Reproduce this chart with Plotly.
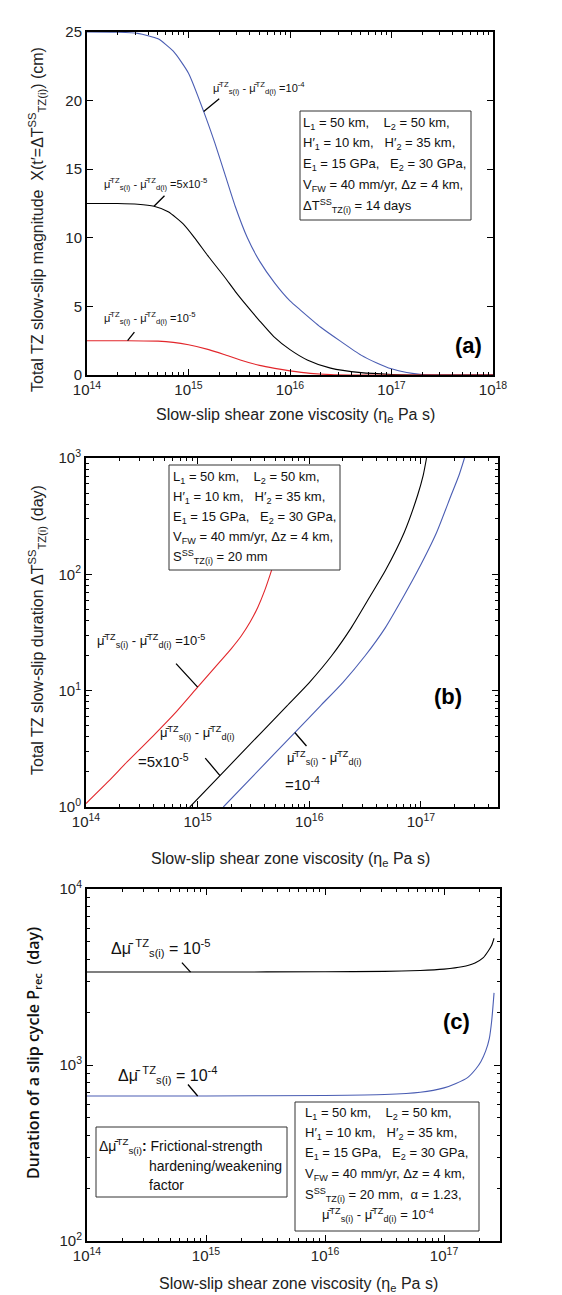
import plotly.graph_objects as go

W, H = 562, 1295

# ---------------- data (log10 viscosity) ----------------
# Panel (a): total TZ slow-slip magnitude (cm)
a_lx_blue = [14.0, 14.3, 14.5, 14.7, 14.85, 15.0, 15.15, 15.26, 15.36, 15.46, 15.58, 15.7,
             15.85, 16.0, 16.1, 16.3, 16.5, 16.7, 16.85, 17.0, 17.15, 17.3, 17.5, 18.0]
a_X_blue = [25.0, 24.98, 24.9, 24.5, 23.6, 22.0, 19.2, 16.9, 14.6, 12.3, 10.0, 8.3,
            6.7, 5.4, 4.75, 3.5, 2.45, 1.45, 0.9, 0.45, 0.18, 0.04, 0.0, 0.0]
a_lx_black = [14.0, 14.3, 14.5, 14.66, 14.8, 14.95, 15.06, 15.2, 15.35, 15.46, 15.58, 15.7,
              15.84, 16.0, 16.17, 16.4, 16.7, 17.0, 17.2, 18.0]
a_X_black = [12.5, 12.5, 12.45, 12.3, 11.9, 11.0, 10.0, 8.6, 7.2, 6.1, 5.0, 3.95,
             2.8, 1.85, 1.1, 0.5, 0.17, 0.04, 0.0, 0.0]
a_lx_red = [14.0, 14.4, 14.7, 14.85, 15.0, 15.2, 15.35, 15.51, 15.7, 15.85, 16.0, 16.2, 16.4, 16.6, 18.0]
a_X_red = [2.5, 2.5, 2.47, 2.38, 2.2, 1.85, 1.5, 1.1, 0.7, 0.48, 0.3, 0.12, 0.03, 0.0, 0.0]

# Panel (b): total TZ slow-slip duration (log10 day)
b_lx_red = [14.0, 14.2, 14.37, 14.6, 14.81, 15.0, 15.2, 15.3, 15.39, 15.47, 15.54, 15.6,
            15.65, 15.7, 15.78, 15.84, 15.88]
b_lT_red = [0.03, 0.22, 0.39, 0.61, 0.82, 1.03, 1.25, 1.36, 1.47, 1.59, 1.72, 1.86,
            2.0, 2.15, 2.45, 2.7, 2.88]
b_lx_black = [14.93, 15.2, 15.57, 15.8, 16.0, 16.2, 16.375, 16.55, 16.68, 16.85, 16.97, 17.02, 17.05]
b_lT_black = [0.0, 0.27, 0.64, 0.87, 1.07, 1.3, 1.54, 1.82, 2.03, 2.36, 2.68, 2.85, 3.0]
b_lx_blue = [15.23, 15.5, 15.87, 16.1, 16.3, 16.5, 16.68, 16.85, 16.97, 17.14, 17.27, 17.34, 17.39]
b_lT_blue = [0.0, 0.27, 0.64, 0.87, 1.07, 1.3, 1.54, 1.82, 2.03, 2.36, 2.68, 2.85, 3.0]

# Panel (c): duration of a slip cycle (log10 day)
c_lx_black = [14.0, 14.87, 15.0, 16.0, 16.5, 16.8, 17.0, 17.15, 17.26, 17.33, 17.37, 17.4, 17.42]
c_lP_black = [3.528, 3.528, 3.528, 3.53, 3.532, 3.537, 3.545, 3.558, 3.58, 3.61, 3.646, 3.68, 3.72]
c_lx_blue = [14.0, 14.93, 15.0, 16.0, 16.5, 16.8, 17.0, 17.1, 17.2, 17.27, 17.31, 17.35, 17.38, 17.4, 17.42]
c_lP_blue = [2.824, 2.824, 2.824, 2.827, 2.832, 2.845, 2.87, 2.895, 2.93, 2.98, 3.02, 3.08, 3.15, 3.25, 3.41]

# tick labels
x_tickexp = [14, 15, 16, 17, 18]
b_y_tickexp = [0, 1, 2, 3]
c_y_tickexp = [2, 3, 4]
a_y_ticks = [0, 5, 10, 15, 20, 25]

BLUE = "#4a5db3"
RED = "#e2262b"
BLACK = "#000000"


def pw(v):
    return [10 ** t for t in v]


def sline(color):
    return dict(color=color, width=1.1, shape="spline", smoothing=0.6)


fig = go.Figure()
fig.add_trace(go.Scatter(x=pw(a_lx_blue), y=a_X_blue, mode="lines", line=sline(BLUE), xaxis="x", yaxis="y"))
fig.add_trace(go.Scatter(x=pw(a_lx_black), y=a_X_black, mode="lines", line=sline(BLACK), xaxis="x", yaxis="y"))
fig.add_trace(go.Scatter(x=pw(a_lx_red), y=a_X_red, mode="lines", line=sline(RED), xaxis="x", yaxis="y"))

fig.add_trace(go.Scatter(x=pw(b_lx_red), y=pw(b_lT_red), mode="lines", line=sline(RED), xaxis="x2", yaxis="y2"))
fig.add_trace(go.Scatter(x=pw(b_lx_black), y=pw(b_lT_black), mode="lines", line=sline(BLACK), xaxis="x2", yaxis="y2"))
fig.add_trace(go.Scatter(x=pw(b_lx_blue), y=pw(b_lT_blue), mode="lines", line=sline(BLUE), xaxis="x2", yaxis="y2"))

fig.add_trace(go.Scatter(x=pw(c_lx_black), y=pw(c_lP_black), mode="lines", line=sline(BLACK), xaxis="x3", yaxis="y3"))
fig.add_trace(go.Scatter(x=pw(c_lx_blue), y=pw(c_lP_blue), mode="lines", line=sline(BLUE), xaxis="x3", yaxis="y3"))


def px(x):
    return x / W


def py(y):
    return 1 - y / H


TICKFONT = dict(family="Liberation Sans, Arial, sans-serif", size=15, color="#222")
TITLEFONT = dict(family="Liberation Sans, Arial, sans-serif", size=16, color="#222")


def powlabels(exps):
    return [10 ** e for e in exps], ["10<sup>%d</sup>" % e for e in exps]


def minorvals(exps):
    return [k * 10 ** e for e in exps for k in range(2, 10)]


def common():
    return dict(showline=True, linewidth=2, linecolor="black", mirror="ticks",
                ticks="inside", ticklen=6, tickwidth=1, tickcolor="black",
                showgrid=False, zeroline=False, tickfont=TICKFONT, automargin=False)


def logax(domain, rng, anchor, exps):
    tv, tt = powlabels(exps)
    d = common()
    d.update(type="log", range=rng, domain=domain, anchor=anchor,
             tickmode="array", tickvals=tv, ticktext=tt,
             minor=dict(tickmode="array", tickvals=minorvals(exps), ticks="inside",
                        ticklen=3, tickwidth=1, tickcolor="black", showgrid=False))
    return d


ya = common()
ya.update(range=[0, 25], tickmode="array", tickvals=a_y_ticks, domain=[py(367), py(24)], anchor="x")

layout = dict(
    width=W, height=H, margin=dict(l=0, r=0, t=0, b=0, autoexpand=False),
    paper_bgcolor="white", plot_bgcolor="white", showlegend=False,
    xaxis=logax([px(79), px(485)], [14, 18], "y", x_tickexp),
    xaxis2=logax([px(78), px(490)], [14, 17.69], "y2", x_tickexp[:4]),
    xaxis3=logax([px(79), px(492)], [14, 17.47], "y3", x_tickexp[:4]),
    yaxis=ya,
    yaxis2=logax([py(799), py(450)], [0, 3], "x2", b_y_tickexp),
    yaxis3=logax([py(1233), py(881)], [2, 4], "x3", c_y_tickexp),
)

shapes = []
ann = []
BOXFONT = dict(family="Liberation Sans, Arial, sans-serif", size=13, color="#111")
LABFONT = dict(family="Liberation Sans, Arial, sans-serif", size=11, color="#111")


def box(x0, y0, x1, y1):
    shapes.append(dict(type="rect", xref="paper", yref="paper", x0=px(x0), x1=px(x1),
                       y0=py(y1), y1=py(y0), line=dict(color="#333", width=1),
                       fillcolor="white", layer="above"))


def text(x, y, t, font=BOXFONT, xanchor="left", angle=0):
    ann.append(dict(xref="paper", yref="paper", x=px(x), y=py(y), text=t, showarrow=False,
                    xanchor=xanchor, yanchor="middle", font=font, textangle=angle))


def pointer(xref, yref, x, y, ax, ay):
    ann.append(dict(xref=xref, yref=yref, x=x, y=y, text="", showarrow=True, arrowhead=0,
                    arrowwidth=1.3, arrowcolor="black", ax=ax, ay=ay))


# axis titles
XTITLE = "Slow-slip shear zone viscosity (η<sub>e</sub> Pa s)"
text(287, 407, XTITLE, TITLEFONT, "center")
text(282, 851, XTITLE, TITLEFONT, "center")
text(290, 1276, XTITLE, TITLEFONT, "center")
text(29, 212, "Total TZ slow-slip magnitude \u00a0X(t′=ΔT<sup>SS</sup><sub>TZ(i)</sub>) (cm)",
     TITLEFONT, "center", -90)
text(29, 622, "Total TZ slow-slip duration ΔT<sup>SS</sup><sub>TZ(i)</sub> (day)",
     TITLEFONT, "center", -90)
text(25, 1045, "Duration of a slip cycle P<sub>rec</sub> \u00a0(day)",
     dict(family="Open Sans, sans-serif", size=16, color="#111", weight=600), "center", -90)

mu = "\u03bc\u0304"
sp = "\u00a0"
L1 = "L<sub>1</sub> = 50 km," + sp * 4 + "L<sub>2</sub> = 50 km,"
L2 = "H′<sub>1</sub> = 10 km," + sp * 3 + "H′<sub>2</sub> = 35 km,"
L3 = "E<sub>1</sub> = 15 GPa," + sp * 3 + "E<sub>2</sub> = 30 GPa,"
L4 = "V<sub>FW</sub> = 40 mm/yr, Δz = 4 km,"

# Panel (a) box
box(292, 103, 463, 212)
for i, t in enumerate([L1, L2, L3, L4, "ΔT<sup>SS</sup><sub>TZ(i)</sub> = 14 days"]):
    text(293, 115 + 20.7 * i, t)

# Panel (b) box
box(161, 457, 332, 562)
for i, t in enumerate([L1, L2, L3, L4, "S<sup>SS</sup><sub>TZ(i)</sub> = 20 mm"]):
    text(163, 470 + 19.7 * i, t)

# Panel (c) boxes
box(287, 1094, 471, 1223)
for i, t in enumerate([L1, L2, L3, L4, "S<sup>SS</sup><sub>TZ(i)</sub> = 20 mm, " + sp + "α = 1.23,"]):
    text(295, 1105 + 20.4 * i, t)
text(312, 1207, mu + "<sup>TZ</sup><sub>s(i)</sub> - " + mu + "<sup>TZ</sup><sub>d(i)</sub> = 10<sup>-4</sup>")

box(88, 1119, 279, 1189)
FF = dict(family="Liberation Sans, Arial, sans-serif", size=14, color="#111")
text(89, 1138, "Δ" + mu + "<sup>TZ</sup><sub>s(i)</sub><b>:</b> Frictional-strength", FF)
text(139, 1158, "hardening/weakening", FF)
text(139, 1177, "factor", FF)

# Panel labels
PL = dict(family="Liberation Sans, Arial, sans-serif", size=22, color="black")
text(460, 337, "<b>(a)</b>", PL, "center")
text(440, 688, "<b>(b)</b>", PL, "center")
text(448, 1013, "<b>(c)</b>", PL, "center")

dmu = mu + "<sup>TZ</sup><sub>s(i)</sub> - " + mu + "<sup>TZ</sup><sub>d(i)</sub>"
# Panel (a) curve labels
text(203, 80, dmu + " =10<sup>-4</sup>", LABFONT)
pointer("x", "y", a_lx_blue[6], a_X_blue[6], 17, -14)
text(94, 176, dmu + " =5x10<sup>-5</sup>", LABFONT)
pointer("x", "y", a_lx_black[3], a_X_black[3], 12, -12)
text(94, 310, dmu + " =10<sup>-5</sup>", LABFONT)
pointer("x", "y", a_lx_red[1], a_X_red[1], 8, -10)

# Panel (b) curve labels
LB = dict(family="Liberation Sans, Arial, sans-serif", size=13, color="#111")
text(87, 633, dmu + " =10<sup>-5</sup>", LB)
pointer("x2", "y2", b_lx_red[5], b_lT_red[5], -23, -25)
text(150, 725, dmu, LB)
text(128, 752, "=5x10<sup>-5</sup>", dict(LB, size=15))
pointer("x2", "y2", b_lx_black[1], b_lT_black[1], -16, -19)
text(277, 750, dmu, LB)
text(275, 775, "=10<sup>-4</sup>", dict(LB, size=15))
pointer("x2", "y2", b_lx_blue[2], b_lT_blue[2], 13, 15)

# Panel (c) curve labels
LC = dict(family="Liberation Sans, Arial, sans-serif", size=16, color="#111")
text(101, 940, "Δ" + mu + " <sup>TZ</sup><sub>s(i)</sub> = 10<sup>-5</sup>", LC)
pointer("x3", "y3", c_lx_black[1], c_lP_black[1], -10, -11)
text(108, 1067, "Δ" + mu + " <sup>TZ</sup><sub>s(i)</sub> = 10<sup>-4</sup>", LC)
pointer("x3", "y3", c_lx_blue[1], c_lP_blue[1], -11, -13)

layout["shapes"] = shapes
layout["annotations"] = ann
fig.update_layout(**layout)
fig.write_html("out.html")
